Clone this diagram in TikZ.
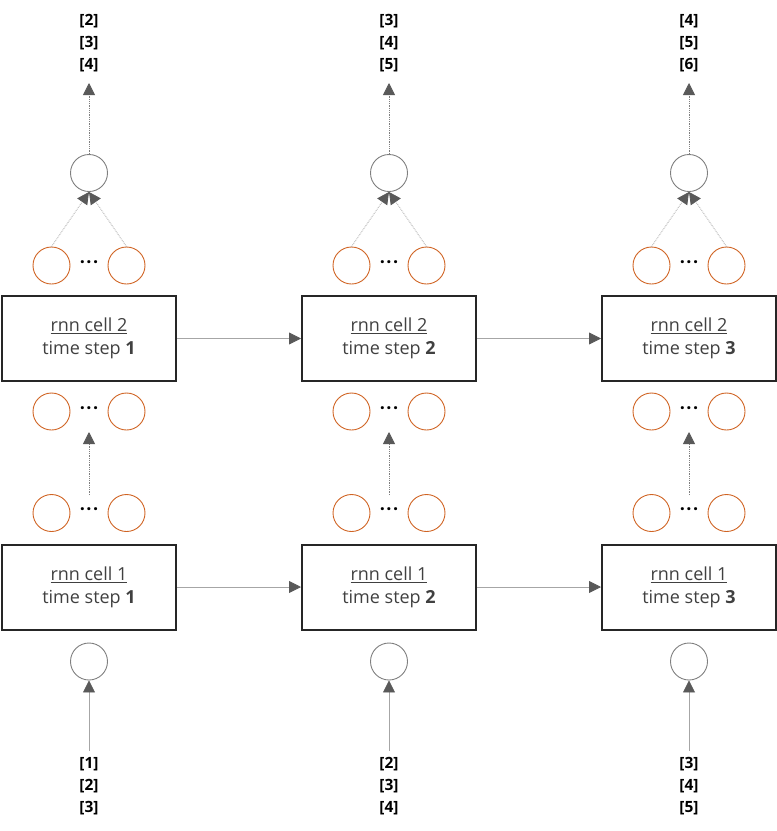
\documentclass[tikz,border=0pt]{standalone}
\usepackage{fontspec}
\setmainfont{Open Sans}
\usetikzlibrary{arrows.meta}
\definecolor{orng}{HTML}{D06424}
\definecolor{cgray}{HTML}{7F7F7F}
\definecolor{lgray}{HTML}{A6A6A6}
\definecolor{tipgray}{HTML}{595959}
\definecolor{boxc}{HTML}{262626}
\definecolor{txtc}{HTML}{404040}
\begin{document}
\begin{tikzpicture}[x=1pt,y=-1pt,
  cellbox/.style={draw=boxc,line width=2pt,minimum width=174pt,minimum height=85pt,inner sep=0pt,
    align=center,font=\fontsize{18}{23}\selectfont,text=txtc},
  ocirc/.style={circle,draw=orng,line width=0.9pt,minimum size=37pt,inner sep=0pt},
  gcirc/.style={circle,draw=cgray,line width=0.9pt,minimum size=37pt,inner sep=0pt},
  dotsnode/.style={font=\fontsize{18}{18}\selectfont\bfseries,inner sep=0pt},
  vals/.style={align=center,font=\fontsize{15.5}{22}\selectfont\bfseries,inner sep=0pt},
  tip/.style={-{Triangle[length=12pt,width=12pt,color=tipgray]}},
  solidcon/.style={tip,draw=lgray,line width=0.8pt},
  dotcon/.style={tip,draw=cgray,line width=0.8pt,densely dotted},
]
\useasboundingbox (0,0) rectangle (777,831);
\foreach \i in {1,2,3}{
  \pgfmathtruncatemacro\x{89+300*(\i-1)}
  \pgfmathtruncatemacro\ta{\i+1}
  \pgfmathtruncatemacro\tb{\i+2}
  \pgfmathtruncatemacro\tc{\i+3}
  \pgfmathtruncatemacro\ba{\i}
  \pgfmathtruncatemacro\bb{\i+1}
  \pgfmathtruncatemacro\bc{\i+2}
  \node[vals] (top-\i) at (\x,43) {[\ta]\\{}[\tb]\\{}[\tc]};
  \coordinate (toptip-\i) at (\x,83);
  \node[gcirc] (out-\i) at (\x,173) {};
  \node[ocirc] (ta-\i) at (\x-37.5,265.5) {};
  \node[ocirc] (tb-\i) at (\x+37.5,265.5) {};
  \node[dotsnode] (td-\i) at (\x,264.5) {·\hspace{1.5pt}·\hspace{1.5pt}·};
  \node[cellbox] (c2-\i) at (\x,338.5) {\underline{rnn cell 2}\\time step \textbf{\i}};
  \node[ocirc] (ma-\i) at (\x-37.5,411.5) {};
  \node[ocirc] (mb-\i) at (\x+37.5,411.5) {};
  \node[dotsnode] (md-\i) at (\x,410.5) {·\hspace{1.5pt}·\hspace{1.5pt}·};
  \node[ocirc] (la-\i) at (\x-37.5,513) {};
  \node[ocirc] (lb-\i) at (\x+37.5,513) {};
  \node[dotsnode] (ld-\i) at (\x,512) {·\hspace{1.5pt}·\hspace{1.5pt}·};
  \coordinate (mstart-\i) at (\x,495);
  \coordinate (mtip-\i) at (\x,432);
  \node[cellbox] (c1-\i) at (\x,587) {\underline{rnn cell 1}\\time step \textbf{\i}};
  \node[gcirc] (in-\i) at (\x,661.5) {};
  \node[vals] (bot-\i) at (\x,786) {[\ba]\\{}[\bb]\\{}[\bc]};
  \draw[dotcon] (out-\i.north) -- (toptip-\i);
  \draw[dotcon,draw=lgray] (ta-\i.north) -- (out-\i.south);
  \draw[dotcon,draw=lgray] (tb-\i.north) -- (out-\i.south);
  \draw[dotcon] (mstart-\i) -- (mtip-\i);
  \draw[solidcon,shorten <=6pt] (bot-\i.north) -- (in-\i.south);
}
\draw[solidcon] (c2-1.east) -- (c2-2.west);
\draw[solidcon] (c2-2.east) -- (c2-3.west);
\draw[solidcon] (c1-1.east) -- (c1-2.west);
\draw[solidcon] (c1-2.east) -- (c1-3.west);
\end{tikzpicture}
\end{document}
